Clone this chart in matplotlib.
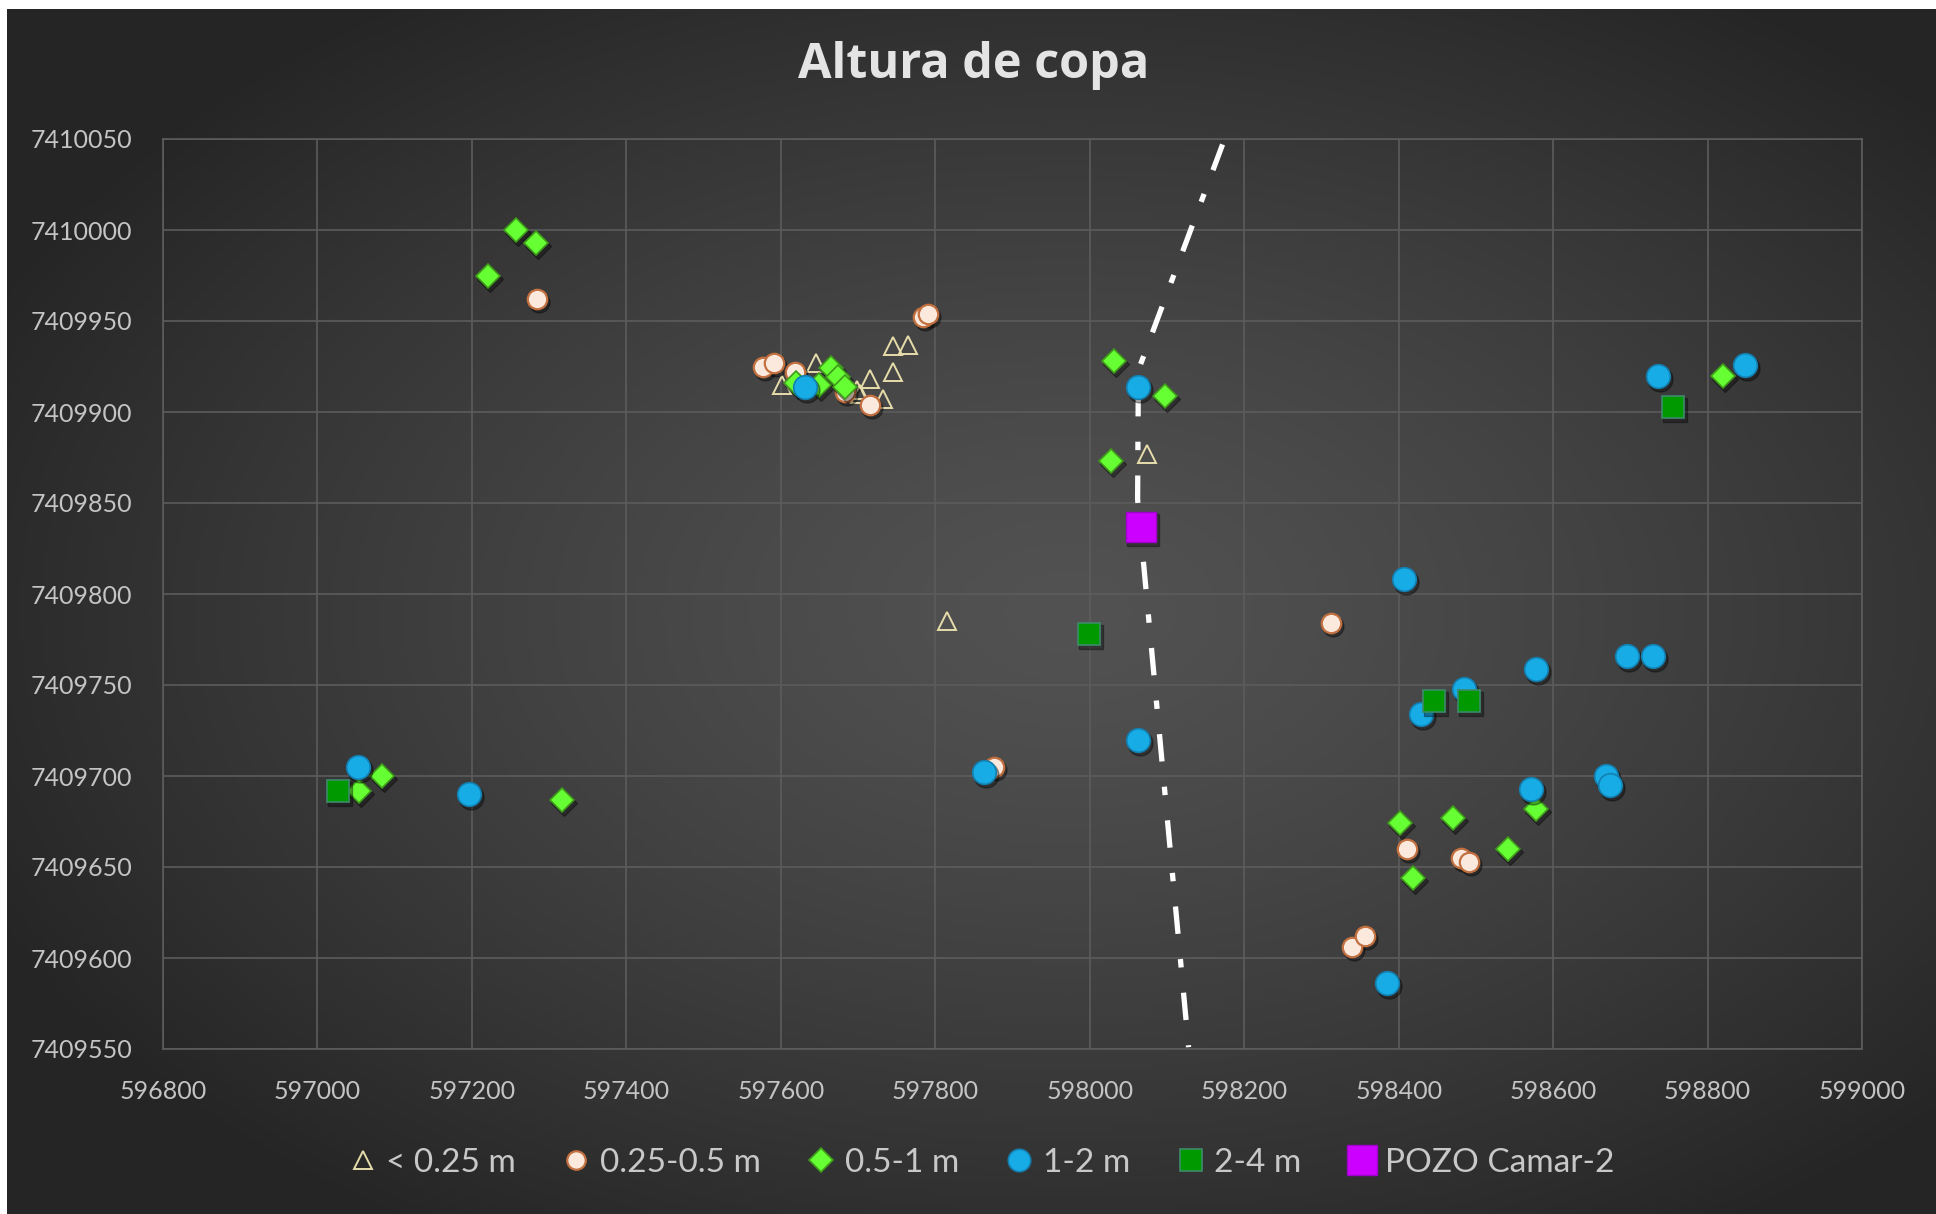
import numpy as np
import matplotlib
matplotlib.use("Agg")
import matplotlib.pyplot as plt
from matplotlib.transforms import offset_copy

# Crown height classes (UTM easting / northing)
tri_x = [597601, 597646, 597699, 597703, 597715, 597732, 597745, 597745,
         597765, 597815, 598074]
tri_y = [7409915, 7409927, 7409912, 7409910, 7409918, 7409907, 7409922,
         7409936, 7409937, 7409785, 7409877]

peach_x = [597284, 597577, 597591, 597618, 597683, 597715, 597784, 597791,
           597876, 598313, 598339, 598357, 598411, 598481, 598491]
peach_y = [7409962, 7409925, 7409927, 7409922, 7409911, 7409904, 7409952,
           7409954, 7409705, 7409784, 7409606, 7409612, 7409660, 7409655,
           7409653]

diam_x = [597221, 597257, 597283, 597620, 597650, 597665, 597674, 597683,
          598031, 598097, 598027, 597054, 597084, 597317, 598402, 598470,
          598418, 598541, 598578, 598820]
diam_y = [7409975, 7410000, 7409993, 7409916, 7409915, 7409924, 7409919,
          7409914, 7409928, 7409909, 7409873, 7409692, 7409700, 7409687,
          7409674, 7409677, 7409644, 7409660, 7409682, 7409920]

blue_x = [597631, 598063, 598407, 597052, 597196, 597863, 598062, 598578,
          598485, 598429, 598571, 598385, 598696, 598730, 598669, 598674,
          598736, 598848]
blue_y = [7409914, 7409914, 7409808, 7409705, 7409690, 7409702, 7409720,
          7409759, 7409748, 7409734, 7409693, 7409586, 7409766, 7409766,
          7409700, 7409695, 7409920, 7409926]

sq_x = [597026, 597999, 598446, 598491, 598755]
sq_y = [7409692, 7409778, 7409741, 7409741, 7409903]

pozo_x = [598067]
pozo_y = [7409837]

# Dash-dot trace
line_x = [598172, 598063, 598062, 598128]
line_y = [7410047, 7409923, 7409852, 7409551]

labels = ['< 0.25 m', '0.25-0.5 m', '0.5-1 m', '1-2 m', '2-4 m',
          'POZO Camar-2']

W, H = 1936, 1214
fig = plt.figure(figsize=(W / 100, H / 100), dpi=100)
fig.patch.set_facecolor('white')

# Radial gradient background (dark chart style)
bg = fig.add_axes([7 / W, 0, 1 - 7 / W, 1 - 9 / H])
bg.set_zorder(-5)
ny, nx = 300, 480
gx, gy = np.meshgrid(np.linspace(0, 1, nx), np.linspace(0, 1, ny))
r = np.sqrt(((gx - 0.55) / 0.62) ** 2 + ((gy - 0.50) / 0.62) ** 2)
r = np.clip(r, 0, 1)
cval = (0x52 - (0x52 - 0x25) * r ** 1.3) / 255.0
img = np.dstack([cval, cval, cval])
bg.imshow(img, aspect='auto', extent=[0, 1, 0, 1], origin='upper')
bg.axis('off')

ax = fig.add_axes([163 / W, 1 - 1049 / H, (1862 - 163) / W, (1049 - 139) / H])
ax.set_facecolor('none')

# Trace line behind the markers
ax.plot(line_x, line_y, color='white', lw=3.8, dashes=(5.2, 4.8, 1.6, 4.8),
        solid_capstyle='butt', dash_capstyle='butt', zorder=2)


def series(x, y, marker, ms, fc, ec, mew, label, shadow=True, z=3):
  """ Plots one series with a soft drop shadow """
  if shadow:
    tr = offset_copy(ax.transData, fig=fig, x=2, y=-3, units='dots')
    ax.plot(x, y, ls='none', marker=marker, ms=ms + 1, mfc='black',
            mec='black', alpha=0.35, transform=tr, zorder=z)
  h, = ax.plot(x, y, ls='none', marker=marker, ms=ms, mfc=fc, mec=ec,
               mew=mew, label=label, zorder=z + 0.1)
  return h


handles = []
handles.append(series(tri_x, tri_y, '^', 13, 'none', '#e6dcaa', 1.4,
                      labels[0], shadow=False, z=3))
handles.append(series(peach_x, peach_y, 'o', 14, '#fbe9de', '#c2703f', 1.6,
                      labels[1], z=4))
handles.append(series(diam_x, diam_y, 'D', 12.5, '#66ff33', '#3f9a1c', 1.2,
                      labels[2], z=5))
handles.append(series(blue_x, blue_y, 'o', 17, '#18ace6', '#137fb0', 1.2,
                      labels[3], z=6))
handles.append(series(sq_x, sq_y, 's', 16, '#009900', '#3d8a6a', 1.2,
                      labels[4], z=7))
handles.append(series(pozo_x, pozo_y, 's', 22, '#cc00ff', '#a000cc', 1.0,
                      labels[5], z=8))

# Axes, ticks and grid
ax.set_xlim(596800, 599000)
ax.set_ylim(7409550, 7410050)
ax.set_xticks(np.arange(596800, 599001, 200))
ax.set_yticks(np.arange(7409550, 7410051, 50))
ax.ticklabel_format(useOffset=False, style='plain')
ax.grid(True, color='#5c5c5c', lw=1.2, zorder=0)
ax.set_axisbelow(True)
for sp in ax.spines.values():
  sp.set_color('#5c5c5c')
  sp.set_linewidth(1.2)
ax.tick_params(length=0, labelsize=18, labelcolor='#c4c4c4', pad=22)
for lab in ax.get_xticklabels() + ax.get_yticklabels():
  lab.set_family('Lato')

# Title
fig.text(974 / W, 1 - 65 / H, 'Altura de copa', ha='center', va='center',
         fontsize=35, fontweight='bold', color='#e4e4e4', family='Open Sans')

# Legend along the bottom
leg = ax.legend(handles=handles, loc='center', ncol=6, frameon=False,
                bbox_to_anchor=(982 / W, 1 - 1163 / H),
                bbox_transform=fig.transFigure,
                prop={'family': 'Lato', 'size': 24}, handlelength=0.8,
                handletextpad=0.3, columnspacing=1.42, markerscale=0.95)
for t in leg.get_texts():
  t.set_color('#c8c8c8')

fig.savefig('out.png', dpi=100)
